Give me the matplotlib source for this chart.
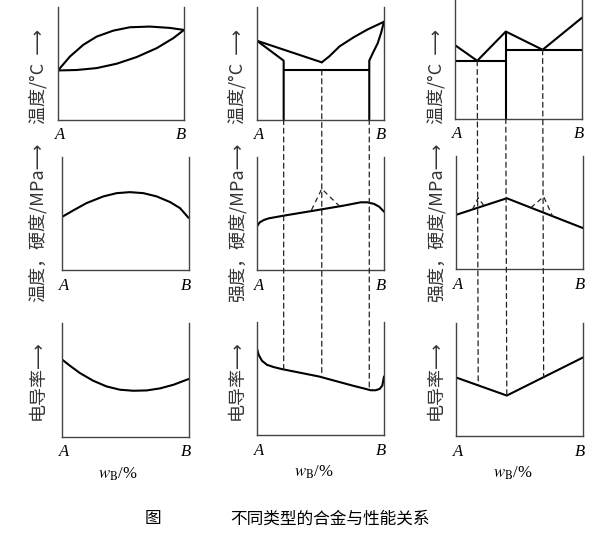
import numpy as np
import matplotlib
matplotlib.use('Agg')
import matplotlib.pyplot as plt
from matplotlib.patches import ConnectionPatch

plt.rcParams['font.family'] = ['Noto Sans CJK SC', 'DejaVu Sans']
plt.rcParams['mathtext.fontset'] = 'stix'
plt.rcParams['lines.solid_joinstyle'] = 'round'
plt.rcParams['lines.solid_capstyle'] = 'round'

W, H = 612, 539

# x = w_B from A (0) to B (1), y = share of panel height

# column 1: complete solid solution
c1_liq_x = [0, 0.095, 0.201, 0.307, 0.439, 0.571, 0.730, 0.889, 1.0]
c1_liq_y = [0.436, 0.560, 0.664, 0.737, 0.790, 0.820, 0.826, 0.814, 0.796]
c1_sol_x = [0, 0.148, 0.307, 0.466, 0.624, 0.783, 0.915, 1.0]
c1_sol_y = [0.436, 0.440, 0.457, 0.496, 0.555, 0.634, 0.723, 0.796]
c1_str_x = [0, 0.092, 0.197, 0.329, 0.434, 0.539, 0.645, 0.750, 0.855, 0.934, 1.0]
c1_str_y = [0.467, 0.527, 0.592, 0.651, 0.680, 0.689, 0.680, 0.651, 0.601, 0.547, 0.462]
c1_con_x = [0, 0.066, 0.145, 0.25, 0.355, 0.461, 0.566, 0.671, 0.776, 0.882, 1.0]
c1_con_y = [0.682, 0.624, 0.559, 0.491, 0.441, 0.412, 0.403, 0.406, 0.424, 0.456, 0.506]

# column 2: eutectic with limited solubility
c2_alpha = 0.21
c2_eut = 0.51
c2_beta = 0.884
c2_eut_t = 0.44
c2_liqL_x = [0, c2_eut]
c2_liqL_y = [0.70, 0.508]
c2_liqR_x = [c2_eut, 0.57, 0.65, 0.76, 0.87, 1.0]
c2_liqR_y = [0.508, 0.562, 0.65, 0.73, 0.80, 0.869]
c2_solL_x = [0, c2_alpha, c2_alpha]
c2_solL_y = [0.70, 0.523, 0]
c2_solR_x = [1.0, 0.976, 0.950, 0.911, c2_beta, c2_beta]
c2_solR_y = [0.869, 0.766, 0.677, 0.588, 0.523, 0]
c2_str_x = [0, 0.021, 0.053, 0.092, 0.211, 0.447, 0.684, 0.816, 0.868, 0.921, 0.961, 1.0]
c2_str_y = [0.386, 0.421, 0.442, 0.457, 0.481, 0.525, 0.570, 0.599, 0.599, 0.585, 0.561, 0.516]
c2_peak_x = [0.429, c2_eut, 0.645]
c2_peak_y = [0.531, 0.718, 0.570]
c2_con_x = [0, 0.013, 0.039, 0.079, 0.132, 0.197, 0.487, 0.75, 0.855, 0.895, 0.934, 0.966, 0.987, 1.0]
c2_con_y = [0.763, 0.710, 0.657, 0.621, 0.601, 0.583, 0.518, 0.438, 0.408, 0.396, 0.396, 0.408, 0.438, 0.518]

# column 3: stable compound
c3_liq_x = [0, 0.175, 0.40, 0.69, 1.0]
c3_liq_y = [0.652, 0.513, 0.773, 0.611, 0.896]
c3_str_x = [0, 0.40, 1.0]
c3_str_y = [0.479, 0.626, 0.362]
c3_bumpL_x = [0.13, 0.175, 0.22]
c3_bumpL_y = [0.527, 0.63, 0.56]
c3_bumpR_x = [0.59, 0.69, 0.76]
c3_bumpR_y = [0.543, 0.64, 0.468]
c3_con_x = [0, 0.40, 1.0]
c3_con_y = [0.518, 0.358, 0.695]

row_labels = ['温度/°C  ⟶', None, '电导率⟶']
str_labels = ['温度，硬度/MPa⟶', '强度，硬度/MPa⟶', '强度，硬度/MPa⟶']

LW = 1.5
fig = plt.figure(figsize=(W / 100, H / 100), dpi=100)


def panel(l, t, r, b, ytop=1.0):
    ax = fig.add_axes([l / W, 1 - b / H, (r - l) / W, (b - t) / H])
    ax.set_xlim(0, 1)
    ax.set_ylim(0, ytop)
    ax.set_xticks([])
    ax.set_yticks([])
    ax.patch.set_alpha(0)
    ax.spines['top'].set_visible(False)
    for s in ['left', 'right', 'bottom']:
        ax.spines[s].set_color('#444444')
        ax.spines[s].set_linewidth(1.0)
    ax.annotate('A', (0, 0), xycoords='axes fraction', xytext=(1.5, -11.5),
                textcoords='offset points', ha='center', va='center',
                fontfamily='Liberation Serif', style='italic', fontsize=12)
    ax.annotate('B', (1, 0), xycoords='axes fraction', xytext=(-2.2, -11.5),
                textcoords='offset points', ha='center', va='center',
                fontfamily='Liberation Serif', style='italic', fontsize=12)
    return ax


dash = dict(color='#222222', linewidth=0.9, linestyle=(0, (4, 3)))

# row 1 - phase diagrams
a11 = panel(58, 7, 184, 119.5)
a11.plot(c1_liq_x, c1_liq_y, color='k', lw=LW)
a11.plot(c1_sol_x, c1_sol_y, color='k', lw=LW)

a12 = panel(257, 7, 384, 119.5)
a12.plot(c2_liqL_x, c2_liqL_y, color='k', lw=LW)
a12.plot(c2_liqR_x, c2_liqR_y, color='k', lw=LW)
a12.plot(c2_solL_x, c2_solL_y, color='k', lw=LW)
a12.plot(c2_solR_x, c2_solR_y, color='k', lw=LW)
a12.plot([c2_alpha, c2_beta], [c2_eut_t, c2_eut_t], color='k', lw=LW)

a13 = panel(455, 0, 582, 118.5, ytop=118.5 / 112.5)
a13.plot(c3_liq_x, c3_liq_y, color='k', lw=LW)
a13.plot([c3_liq_x[0], c3_liq_x[2]], [c3_liq_y[1], c3_liq_y[1]], color='k', lw=LW)
a13.plot([c3_liq_x[2], c3_liq_x[4]], [c3_liq_y[3], c3_liq_y[3]], color='k', lw=LW)
a13.plot([c3_liq_x[2], c3_liq_x[2]], [c3_liq_y[2], 0], color='k', lw=LW)

# row 2 - strength / hardness
a21 = panel(61.5, 157, 188.5, 270)
a21.plot(c1_str_x, c1_str_y, color='k', lw=LW)

a22 = panel(257, 157, 384, 270)
a22.plot(c2_str_x, c2_str_y, color='k', lw=LW)
a22.plot(c2_peak_x, c2_peak_y, **dash)

a23 = panel(456, 156, 583, 269)
a23.plot(c3_str_x, c3_str_y, color='k', lw=LW)
a23.plot(c3_bumpL_x, c3_bumpL_y, **dash)
a23.plot(c3_bumpR_x, c3_bumpR_y, **dash)

# row 3 - conductivity
a31 = panel(61.5, 323, 188.5, 436.5)
a31.plot(c1_con_x, c1_con_y, color='k', lw=LW)

a32 = panel(257, 322, 384, 435)
a32.plot(c2_con_x, c2_con_y, color='k', lw=LW)

a33 = panel(456, 323, 583, 436)
a33.plot(c3_con_x, c3_con_y, color='k', lw=LW)

# dashed guide lines from the phase diagram down to the conductivity curves
c2_starts = [(c2_alpha, 0), (c2_eut, c2_eut_t), (c2_beta, 0)]
for x0, y0 in c2_starts:
    y1 = np.interp(x0, c2_con_x, c2_con_y)
    fig.add_artist(ConnectionPatch((x0, y0), (x0, y1), 'data', 'data',
                                   axesA=a12, axesB=a32, **dash))
c3_starts = [(c3_liq_x[1], c3_liq_y[1]), (c3_liq_x[2], 0), (c3_liq_x[3], c3_liq_y[3])]
for x0, y0 in c3_starts:
    y1 = np.interp(x0, c3_con_x, c3_con_y)
    fig.add_artist(ConnectionPatch((x0, y0), (x0, y1), 'data', 'data',
                                   axesA=a13, axesB=a33, **dash))

# axis titles
for cx in [38, 237, 436]:
    fig.text(cx / W, 1 - 77 / H, row_labels[0], rotation=90, ha='center',
             va='center', fontsize=13, color='#333333')
    fig.text(cx / W, 1 - 380 / H, row_labels[2], rotation=90, ha='center',
             va='center', fontsize=13, color='#333333')
for cx, lab in zip([38, 237, 436], str_labels):
    fig.text(cx / W, 1 - 222 / H, lab, rotation=90, ha='center',
             va='center', fontsize=13, color='#333333')

for ax in [a31, a32, a33]:
    ax.annotate(r'$w_{\mathrm{B}}$/%', (0.5, 0), xycoords='axes fraction',
                xytext=(-5, -27), textcoords='offset points', ha='center',
                va='center', fontfamily='Liberation Serif', fontsize=12)

fig.text(153 / W, 1 - 519 / H, '图', ha='center', va='center', fontsize=12)
fig.text(330 / W, 1 - 519 / H, '不同类型的合金与性能关系', ha='center',
         va='center', fontsize=12)

fig.savefig('out.png', dpi=100)
